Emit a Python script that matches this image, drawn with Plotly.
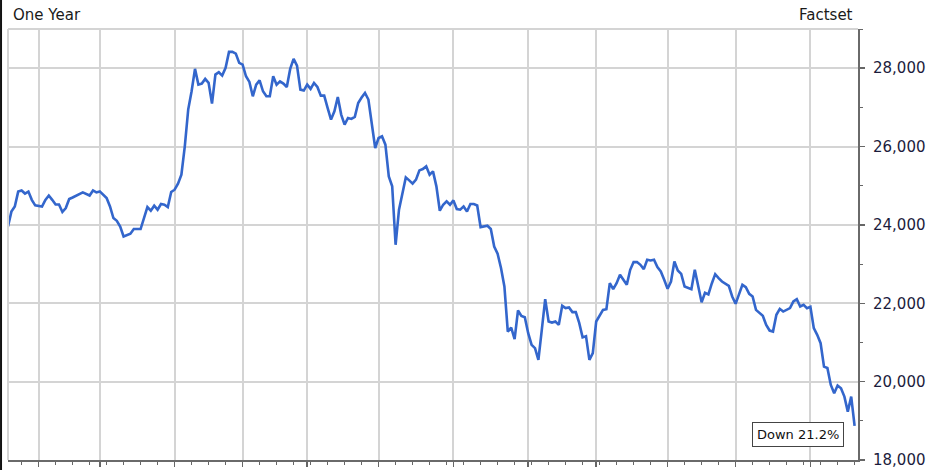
import plotly.graph_objects as go

# Trading-day index within the one-year window, and index level
days = [0, 1, 2, 3, 4, 5, 6, 7, 8, 10, 11, 12, 13, 14, 15, 16, 17, 18, 19, 21,
        22, 24, 25, 26, 27, 29, 30, 31, 32, 33, 34, 36, 37, 39, 40, 41, 42, 43, 44, 45,
        46, 47, 48, 49, 50, 51, 52, 53, 54, 55, 56, 57, 58, 59, 60, 61, 62, 63, 64, 65,
        66, 67, 68, 69, 70, 71, 72, 73, 74, 75, 76, 77, 78, 79, 80, 81, 82, 83, 84, 85,
        86, 87, 88, 89, 90, 91, 92, 93, 94, 95, 96, 97, 98, 99, 100, 101, 102, 103, 104, 105,
        106, 107, 108, 109, 110, 111, 112, 113, 114, 115, 116, 117, 118, 119, 120, 121, 122, 123, 124, 125,
        126, 127, 128, 129, 130, 131, 132, 133, 134, 135, 136, 137, 138, 139, 141, 142, 143, 144, 145, 146,
        147, 148, 149, 150, 151, 152, 153, 154, 155, 156, 157, 158, 159, 160, 161, 162, 163, 164, 165, 166,
        167, 168, 169, 170, 171, 172, 173, 175, 176, 177, 178, 179, 180, 181, 182, 183, 184, 185, 186, 187,
        188, 189, 190, 191, 192, 193, 194, 195, 196, 197, 198, 199, 200, 201, 202, 203, 204, 205, 206, 207,
        208, 209, 210, 212, 213, 214, 215, 216, 217, 218, 219, 220, 222, 223, 224, 225, 226, 227, 228, 229,
        230, 231, 232, 233, 234, 235, 236, 237, 238, 239, 240, 241, 242, 243, 244, 245, 246, 247, 248, 249]

close = [23960, 24340, 24470, 24850, 24880, 24800, 24850, 24640, 24500, 24470, 24640, 24750, 24640, 24520, 24520, 24330, 24430, 24660, 24700, 24800,
         24830, 24750, 24880, 24830, 24855, 24685, 24470, 24175, 24106, 23960, 23706, 23775, 23895, 23895, 24175, 24455, 24362, 24490, 24388, 24532,
         24515, 24455, 24839, 24898, 25052, 25282, 26005, 26943, 27410, 27982, 27580, 27606, 27726, 27624, 27096, 27837, 27896, 27811, 28008, 28416,
         28416, 28373, 28135, 28092, 27793, 27650, 27282, 27580, 27690, 27410, 27282, 27282, 27793, 27580, 27665, 27606, 27521, 27982, 28237, 28067,
         27453, 27428, 27580, 27471, 27624, 27521, 27300, 27300, 26985, 26687, 26899, 27266, 26815, 26559, 26730, 26704, 26756, 27113, 27250, 27369,
         27200, 26559, 25964, 26219, 26260, 26048, 25239, 24984, 23493, 24388, 24813, 25213, 25136, 25052, 25154, 25392, 25427, 25494, 25282, 25366,
         24984, 24362, 24515, 24600, 24515, 24625, 24405, 24388, 24472, 24344, 24532, 24532, 24497, 23944, 23979, 23895, 23449, 23263, 22900, 22428,
         21278, 21380, 21083, 21815, 21679, 21645, 21236, 20938, 20854, 20555, 21321, 22106, 21534, 21508, 21534, 21449, 21935, 21876, 21893, 21774,
         21774, 21500, 21130, 21160, 20555, 20726, 21534, 21832, 21849, 22513, 22360, 22513, 22727, 22599, 22471, 22854, 23051, 23051, 22982, 22871,
         23110, 23092, 23110, 22923, 22812, 22599, 22369, 22556, 23067, 22838, 22752, 22428, 22390, 22360, 22854, 22394, 22026, 22266, 22224, 22505,
         22743, 22642, 22556, 22446, 22173, 21986, 22224, 22471, 22411, 22241, 22173, 21832, 21679, 21449, 21304, 21278, 21705, 21858, 21789, 21832,
         21876, 22046, 22106, 21917, 21960, 21876, 21909, 21364, 21194, 20981, 20384, 20350, 19916, 19704, 19899, 19831, 19618, 19234, 19618, 18870]

# Month boundaries (trading-day index) for the vertical grid
month_starts = [9, 27, 49, 69, 88, 109, 131, 153, 173, 194, 214, 236]
y_ticks = [18000, 20000, 22000, 24000, 26000, 28000]
y_labels = ["18,000", "20,000", "22,000", "24,000", "26,000", "28,000"]

period_label = "One Year"
source_label = "Factset"
change_label = "Down 21.2%"

FONT = "DejaVu Sans, Verdana, sans-serif"
GRID = "#d4d4d4"

fig = go.Figure()
fig.add_trace(go.Scatter(
    x=days, y=close, mode="lines",
    line=dict(color="#3366cc", width=2.6),
    hoverinfo="skip", showlegend=False,
))

fig.update_layout(
    width=932, height=470,
    margin=dict(l=8, r=74, t=29, b=10, autoexpand=False),
    paper_bgcolor="white", plot_bgcolor="white",
    font=dict(family=FONT, color="#1a1a1a"),
    xaxis=dict(
        range=[0, 250], tickmode="array", tickvals=month_starts,
        showticklabels=False, ticks="outside", ticklen=5, tickwidth=1.5, tickcolor="#666",
        showgrid=True, gridcolor=GRID, gridwidth=2,
        showline=True, linecolor="#6a6a6a", linewidth=2,
        zeroline=False, fixedrange=True, automargin=False,
        minor=dict(dtick=5, tick0=4, ticks="outside", ticklen=3, tickwidth=1, tickcolor="#666", showgrid=False),
    ),
    yaxis=dict(
        range=[18000, 29000], side="right", tickmode="array",
        tickvals=y_ticks, ticktext=y_labels,
        tickfont=dict(family=FONT, size=15, color="#1c1c3c"),
        ticks="outside", ticklen=5, tickwidth=1.5, tickcolor="#666",
        ticklabelstandoff=5,
        showgrid=True, gridcolor=GRID, gridwidth=2,
        showline=True, linecolor="#6a6a6a", linewidth=2,
        zeroline=False, fixedrange=True, automargin=False,
        minor=dict(dtick=1000, tick0=18000, ticks="outside", ticklen=3, tickwidth=1, tickcolor="#666", showgrid=False),
    ),
    shapes=[
        dict(type="line", xref="paper", yref="paper", x0=0, x1=1, y0=1, y1=1,
             line=dict(color=GRID, width=2)),
        dict(type="line", xref="paper", yref="paper", x0=0, x1=0, y0=0, y1=1,
             line=dict(color=GRID, width=2)),
        dict(type="line", xref="paper", yref="paper", x0=-0.0082, x1=-0.0082, y0=-0.03, y1=1.07,
             line=dict(color="#111", width=2)),
    ],
    annotations=[
        dict(text=period_label, xref="paper", yref="paper", x=0.004, y=1.006,
             xanchor="left", yanchor="bottom", showarrow=False,
             font=dict(family=FONT, size=15, color="#1a1a1a")),
        dict(text=source_label, xref="paper", yref="paper", x=0.997, y=1.006,
             xanchor="right", yanchor="bottom", showarrow=False,
             font=dict(family=FONT, size=15, color="#1a1a1a")),
        dict(text=change_label, xref="paper", yref="paper", x=0.9835, y=0.03,
             xanchor="right", yanchor="bottom", showarrow=False,
             font=dict(family=FONT, size=13, color="#111"),
             bgcolor="white", bordercolor="#444", borderwidth=1, borderpad=4),
    ],
)

fig.write_html("out.html", config={"displayModeBar": False, "staticPlot": True},
               post_script="document.body.style.margin='0';document.body.style.overflow='hidden';")
